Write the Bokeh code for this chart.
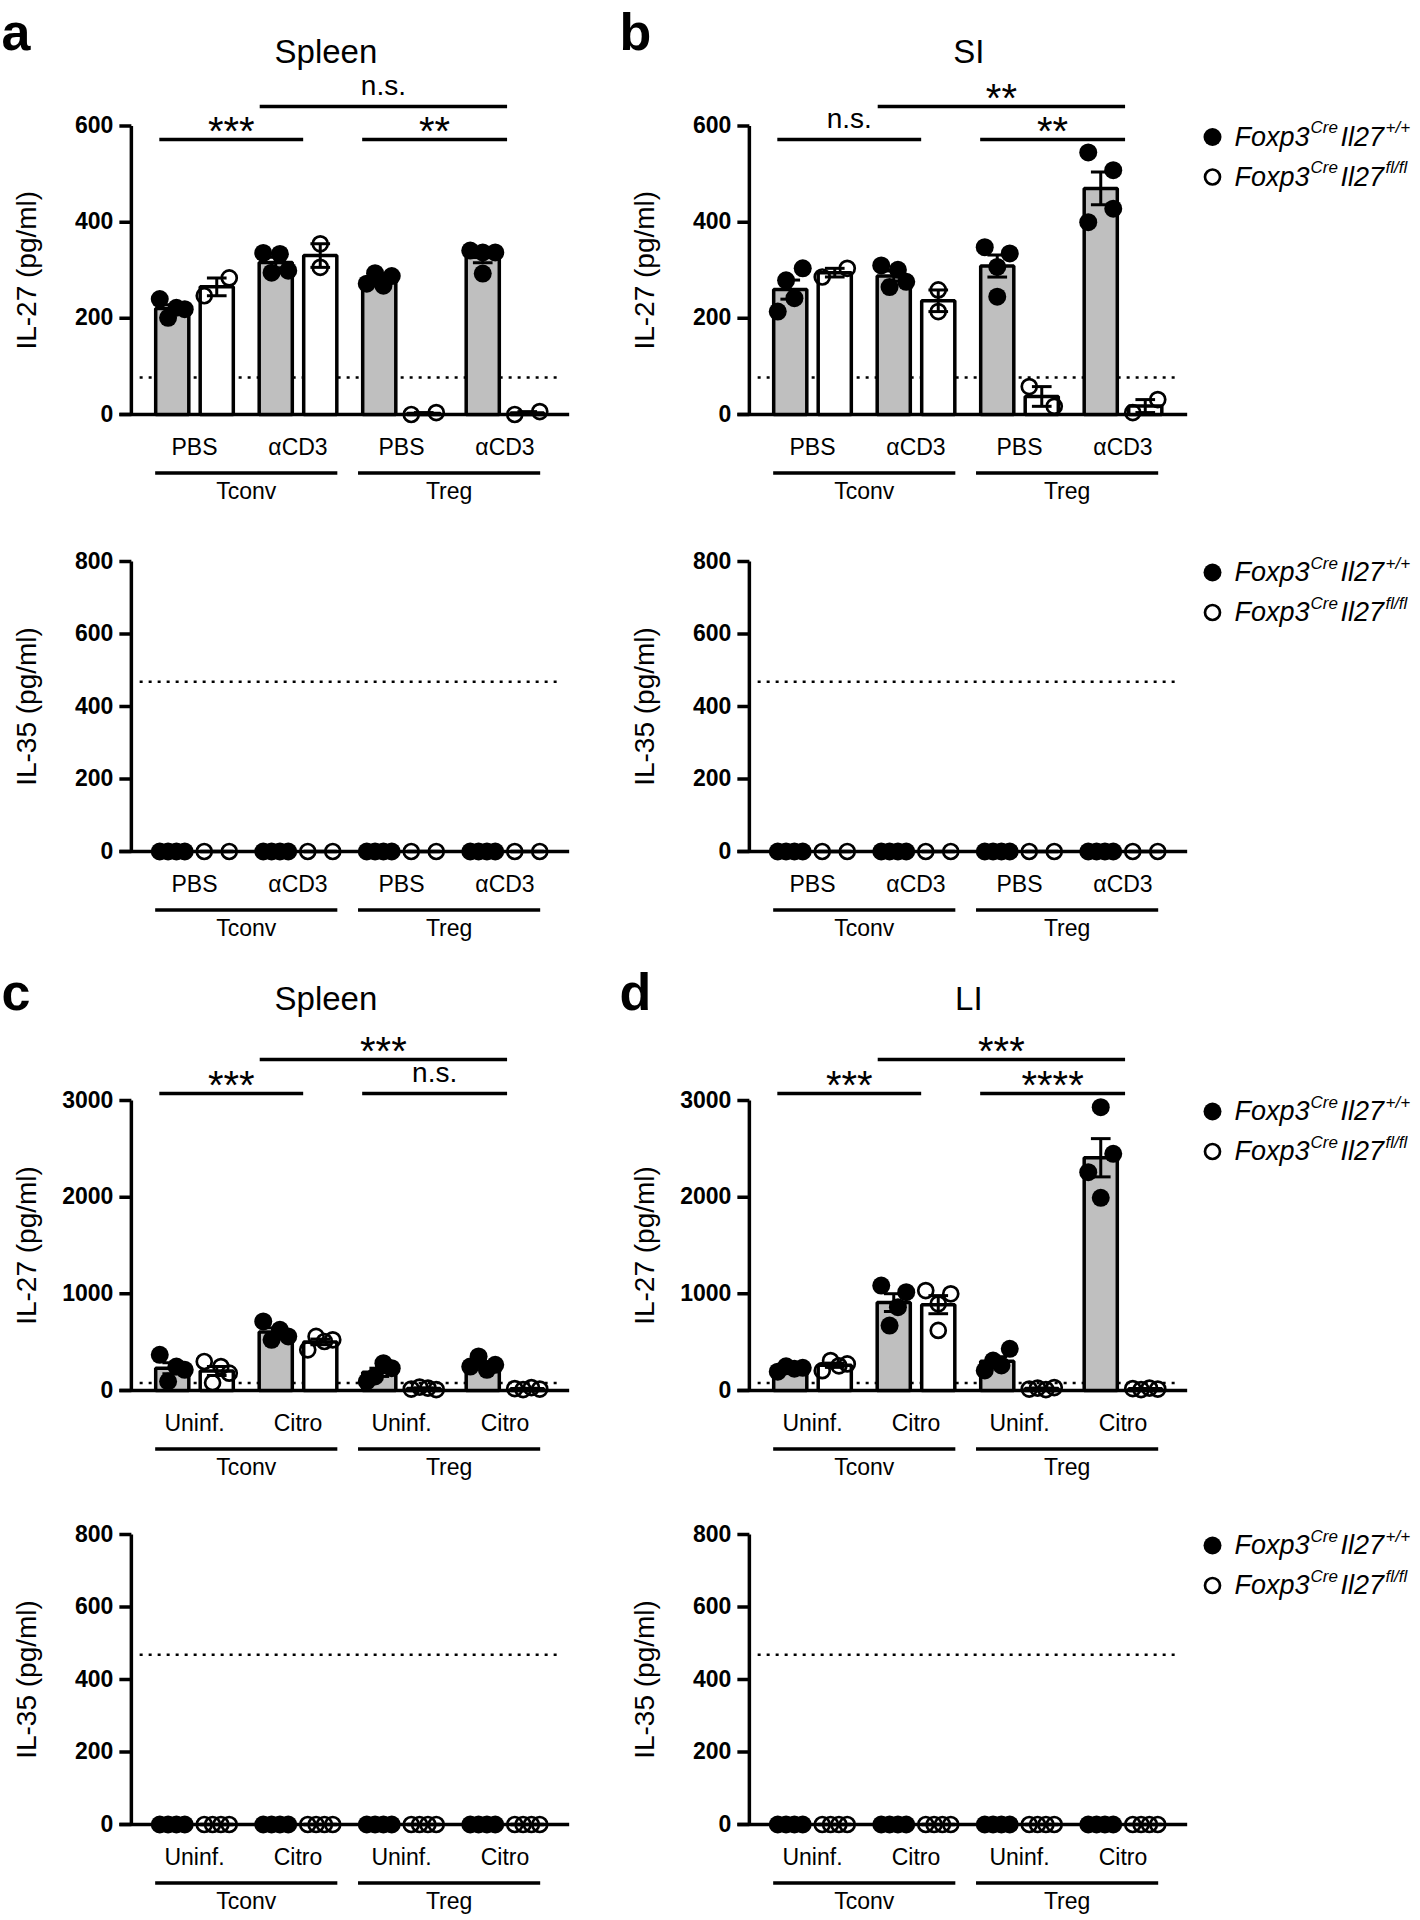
import numpy as np
from bokeh.plotting import figure
from bokeh.layouts import column, row
from bokeh.models import Range1d
from bokeh.core.properties import value
from bokeh.embed import file_html
from bokeh.resources import INLINE

# ------------------------------------------------------------------ data
groups = ["Tconv", "Treg"]
conditions_acd3 = ["PBS", "αCD3", "PBS", "αCD3"]
conditions_citro = ["Uninf.", "Citro", "Uninf.", "Citro"]
legend_main = ["Foxp3", "Il27"]
legend_sup = [["Cre", "+/+"], ["Cre", "fl/fl"]]

# order of conditions: Tconv/PBS, Tconv/aCD3, Treg/PBS, Treg/aCD3 (pg/ml)
spleen_acd3_il27_wt = [[240, 201, 222, 219], [336, 295, 334, 299], [272, 294, 268, 288], [341, 293, 337, 337]]
spleen_acd3_il27_ko = [[247, 284], [355, 306], [0, 4], [0, 6]]
si_acd3_il27_wt = [[214, 279, 242, 304], [310, 265, 301, 276], [348, 245, 307, 335], [545, 400, 508, 428]]
si_acd3_il27_ko = [[286, 304], [259, 214], [58, 17], [4, 31]]
spleen_acd3_il35_wt = [[0, 0, 0, 0], [0, 0, 0, 0], [0, 0, 0, 0], [0, 0, 0, 0]]
spleen_acd3_il35_ko = [[0, 0], [0, 0], [0, 0], [0, 0]]
si_acd3_il35_wt = [[0, 0, 0, 0], [0, 0, 0, 0], [0, 0, 0, 0], [0, 0, 0, 0]]
si_acd3_il35_ko = [[0, 0], [0, 0], [0, 0], [0, 0]]

# order of conditions: Tconv/Uninf., Tconv/Citro, Treg/Uninf., Treg/Citro (pg/ml)
spleen_citro_il27_wt = [[369, 93, 248, 214], [714, 524, 628, 559], [93, 145, 283, 231], [248, 352, 214, 266]]
spleen_citro_il27_ko = [[300, 80, 248, 179], [421, 559, 507, 524], [15, 35, 25, 10], [20, 10, 30, 15]]
li_citro_il27_wt = [[195, 250, 225, 235], [1086, 672, 862, 1017], [207, 310, 259, 431], [2931, 2259, 1993, 2448]]
li_citro_il27_ko = [[205, 310, 255, 275], [1034, 621, 897, 1000], [15, 25, 10, 30], [20, 10, 25, 15]]
spleen_citro_il35_wt = [[0, 0, 0, 0], [0, 0, 0, 0], [0, 0, 0, 0], [0, 0, 0, 0]]
spleen_citro_il35_ko = [[0, 0, 0, 0], [0, 0, 0, 0], [0, 0, 0, 0], [0, 0, 0, 0]]
li_citro_il35_wt = [[0, 0, 0, 0], [0, 0, 0, 0], [0, 0, 0, 0], [0, 0, 0, 0]]
li_citro_il35_ko = [[0, 0, 0, 0], [0, 0, 0, 0], [0, 0, 0, 0], [0, 0, 0, 0]]

# detection limits (dotted lines)
lod_il27 = 77
lod_il35 = 468

# significance: [left pair bracket, right pair bracket, top bracket]
sig_spleen_acd3 = ["***", "**", "n.s."]
sig_si_acd3 = ["n.s.", "**", "**"]
sig_spleen_citro = ["***", "n.s.", "***"]
sig_li_citro = ["***", "****", "***"]

ticks_il27_acd3 = [0, 200, 400, 600]
ticks_il27_citro = [0, 1000, 2000, 3000]
ticks_il35 = [0, 200, 400, 600, 800]

# ------------------------------------------------------------------ style / layout
FONT = "Liberation Sans"
PPX = 103.5          # px per x unit
BAR_OFF = 0.215
BAR_W = 0.32
CAP_W = 0.19
DOT = 18
SPREAD = 25
GREY = "#bfbfbf"
LW = 3.5
K = 0.42             # baseline correction (fraction of font size)
X_AXIS_END = 3.62
AXIS_X = -0.61
TICK = 12 / PPX

COLS = [
    dict(W=620, x0=-194 / PPX, title_x=1.27),
    dict(W=796, x0=-192 / PPX, title_x=1.51),
]
ROWS = [
    dict(H=530, zero=414, ppu=288.5 / 600, top_px=288.5, sig_low=275, sig_top=308, title=349, letter=360.5),
    dict(H=430, zero=321, ppu=290 / 800, top_px=290),
    dict(H=526, zero=430, ppu=290 / 3000, top_px=290, sig_low=297, sig_top=331, title=378, letter=377),
    dict(H=430, zero=338, ppu=290 / 800, top_px=290),
]
SIG_SPANS = [(-0.34, 1.05), (1.62, 3.02), (0.63, 3.02)]
GROUP_SPANS = [(-0.38, 1.38), (1.58, 3.34)]


def swarm(vals, ppu):
    vals = np.asarray(vals, float)
    order = np.argsort(vals, kind="stable")
    clusters, cur = [], [order[0]]
    for a, b in zip(order[:-1], order[1:]):
        if (vals[b] - vals[a]) * ppu < 1.1 * DOT:
            cur.append(b)
        else:
            clusters.append(cur)
            cur = [b]
    clusters.append(cur)
    off = np.zeros(len(vals))
    for c in clusters:
        c = sorted(c)
        k = len(c)
        if k > 1:
            for i, idx in enumerate(c):
                off[idx] = -SPREAD / 2 + SPREAD * i / (k - 1)
    return off / PPX


def panel(col, rw, wt, ko, cond, lod, ylabel, ticks, sig=None, title=None, letter=None, legend=False):
    c = COLS[col]
    r = ROWS[rw]
    ppu = r["ppu"]

    def v(px):
        return px / ppu

    x1 = c["x0"] + c["W"] / PPX
    p = figure(width=c["W"], height=r["H"], x_range=Range1d(c["x0"], x1),
               y_range=Range1d(-v(r["H"] - r["zero"]), v(r["zero"])),
               output_backend="svg", toolbar_location=None, tools="",
               x_axis_location=None, y_axis_location=None,
               min_border_left=0, min_border_right=0, min_border_top=0, min_border_bottom=0)
    p.outline_line_color = None
    p.grid.visible = False
    p.background_fill_color = "white"
    p.border_fill_color = "white"

    def txt(xs, pxs, texts, fs, style="normal", align="center", angle=0.0):
        p.text(x=xs, y=[v(q + (K * fs if angle == 0 else 0)) for q in pxs],
               text=texts, text_font=value(FONT), text_font_size=f"{fs}px",
               text_font_style=style, text_align=align, text_baseline="alphabetic",
               text_color="black", angle=angle)

    # ---- y axis (drawn through the y scale)
    top = max(ticks)
    p.segment(x0=[AXIS_X], y0=[0], x1=[AXIS_X], y1=[top], line_color="black", line_width=LW)
    p.segment(x0=[AXIS_X - TICK] * len(ticks), y0=ticks, x1=[AXIS_X] * len(ticks), y1=ticks,
              line_color="black", line_width=LW)
    txt([AXIS_X - 18 / PPX] * len(ticks), [t * ppu - 8.2 for t in ticks], [str(t) for t in ticks],
        23, "bold", "right")
    txt([(26 - 194) / PPX], [r["top_px"] / 2], [ylabel], 28, angle=np.pi / 2)

    # detection limit
    p.segment(x0=[-0.53], y0=[lod], x1=[3.53], y1=[lod], line_color="black",
              line_width=2.5, line_dash="3 6")
    # x axis line
    p.segment(x0=[AXIS_X - TICK], y0=[0], x1=[X_AXIS_END], y1=[0], line_color="black", line_width=LW)

    sets = []
    for data, off, fill in ((wt, -BAR_OFF, GREY), (ko, BAR_OFF, "white")):
        xs = np.arange(4) + off
        means = np.array([np.mean(d) for d in data])
        sems = np.array([np.std(d, ddof=1) / np.sqrt(len(d)) for d in data])
        sets.append((xs, means, sems, data, fill))
    for xs, means, sems, data, fill in sets:
        p.vbar(x=xs, top=means, bottom=0, width=BAR_W, fill_color=fill, line_color="black", line_width=LW)
    for xs, means, sems, data, fill in sets:
        p.segment(x0=xs, y0=means - sems, x1=xs, y1=means + sems, line_color="black", line_width=3)
        for yy in (means - sems, means + sems):
            p.segment(x0=xs - CAP_W / 2, y0=yy, x1=xs + CAP_W / 2, y1=yy, line_color="black", line_width=3)
    for xs, means, sems, data, fill in sets:
        px_, py_ = [], []
        for x, d in zip(xs, data):
            o = swarm(d, ppu)
            px_ += list(x + o)
            py_ += list(d)
        if fill == GREY:
            p.scatter(x=px_, y=py_, size=DOT, fill_color="black", line_color=None)
        else:
            p.scatter(x=px_, y=py_, size=DOT - 3, fill_color=None, line_color="black", line_width=2.7)

    # category labels and group brackets
    txt(list(range(4)), [-42.5] * 4, cond, 23)
    p.segment(x0=[s[0] for s in GROUP_SPANS], y0=[v(-58.5)] * 2, x1=[s[1] for s in GROUP_SPANS],
              y1=[v(-58.5)] * 2, line_color="black", line_width=LW)
    txt([(s[0] + s[1]) / 2 for s in GROUP_SPANS], [-86] * 2, groups, 23)

    if sig is not None:
        levels = [r["sig_low"], r["sig_low"], r["sig_top"]]
        p.segment(x0=[s[0] for s in SIG_SPANS], y0=[v(l) for l in levels],
                  x1=[s[1] for s in SIG_SPANS], y1=[v(l) for l in levels], line_color="black", line_width=LW)
        for (a, b), lvl, s in zip(SIG_SPANS, levels, sig):
            if s.startswith("*"):
                txt([(a + b) / 2], [lvl - 8], [s], 40)
            else:
                txt([(a + b) / 2], [lvl + 9], [s], 28)
    if title is not None:
        txt([c["title_x"]], [r["title"]], [title], 33)
    if letter is not None:
        txt([-1.865], [r["letter"]], [letter], 52, "bold", "left")
    if legend:
        dot_x = (1212 - 812) / PPX
        tx = (1234 - 812) / PPX
        for k in range(2):
            dpx = r["top_px"] - 11 - 40 * k
            bpx = dpx - 11
            if k == 0:
                p.scatter(x=[dot_x], y=[v(dpx)], size=DOT, fill_color="black", line_color=None)
            else:
                p.scatter(x=[dot_x], y=[v(dpx)], size=DOT - 3, fill_color=None, line_color="black",
                          line_width=2.7)
            txt([tx], [bpx], [legend_main[0]], 27, "italic", "left")
            txt([tx + 76 / PPX], [bpx + 13], [legend_sup[k][0]], 17, "italic", "left")
            txt([tx + 106 / PPX], [bpx], [legend_main[1]], 27, "italic", "left")
            txt([tx + 151 / PPX], [bpx + 13], [legend_sup[k][1]], 17, "italic", "left")
    return p


pa = panel(0, 0, spleen_acd3_il27_wt, spleen_acd3_il27_ko, conditions_acd3, lod_il27, "IL-27 (pg/ml)",
           ticks_il27_acd3, sig_spleen_acd3, "Spleen", "a")
pb = panel(1, 0, si_acd3_il27_wt, si_acd3_il27_ko, conditions_acd3, lod_il27, "IL-27 (pg/ml)",
           ticks_il27_acd3, sig_si_acd3, "SI", "b", legend=True)
pa2 = panel(0, 1, spleen_acd3_il35_wt, spleen_acd3_il35_ko, conditions_acd3, lod_il35, "IL-35 (pg/ml)", ticks_il35)
pb2 = panel(1, 1, si_acd3_il35_wt, si_acd3_il35_ko, conditions_acd3, lod_il35, "IL-35 (pg/ml)", ticks_il35,
            legend=True)
pc = panel(0, 2, spleen_citro_il27_wt, spleen_citro_il27_ko, conditions_citro, lod_il27, "IL-27 (pg/ml)",
           ticks_il27_citro, sig_spleen_citro, "Spleen", "c")
pd = panel(1, 2, li_citro_il27_wt, li_citro_il27_ko, conditions_citro, lod_il27, "IL-27 (pg/ml)",
           ticks_il27_citro, sig_li_citro, "LI", "d", legend=True)
pc2 = panel(0, 3, spleen_citro_il35_wt, spleen_citro_il35_ko, conditions_citro, lod_il35, "IL-35 (pg/ml)",
            ticks_il35)
pd2 = panel(1, 3, li_citro_il35_wt, li_citro_il35_ko, conditions_citro, lod_il35, "IL-35 (pg/ml)", ticks_il35,
            legend=True)

layout = column(row(pa, pb), row(pa2, pb2), row(pc, pd), row(pc2, pd2))
open("out.html", "w").write(file_html(layout, INLINE, title="IL-27 / IL-35"))
